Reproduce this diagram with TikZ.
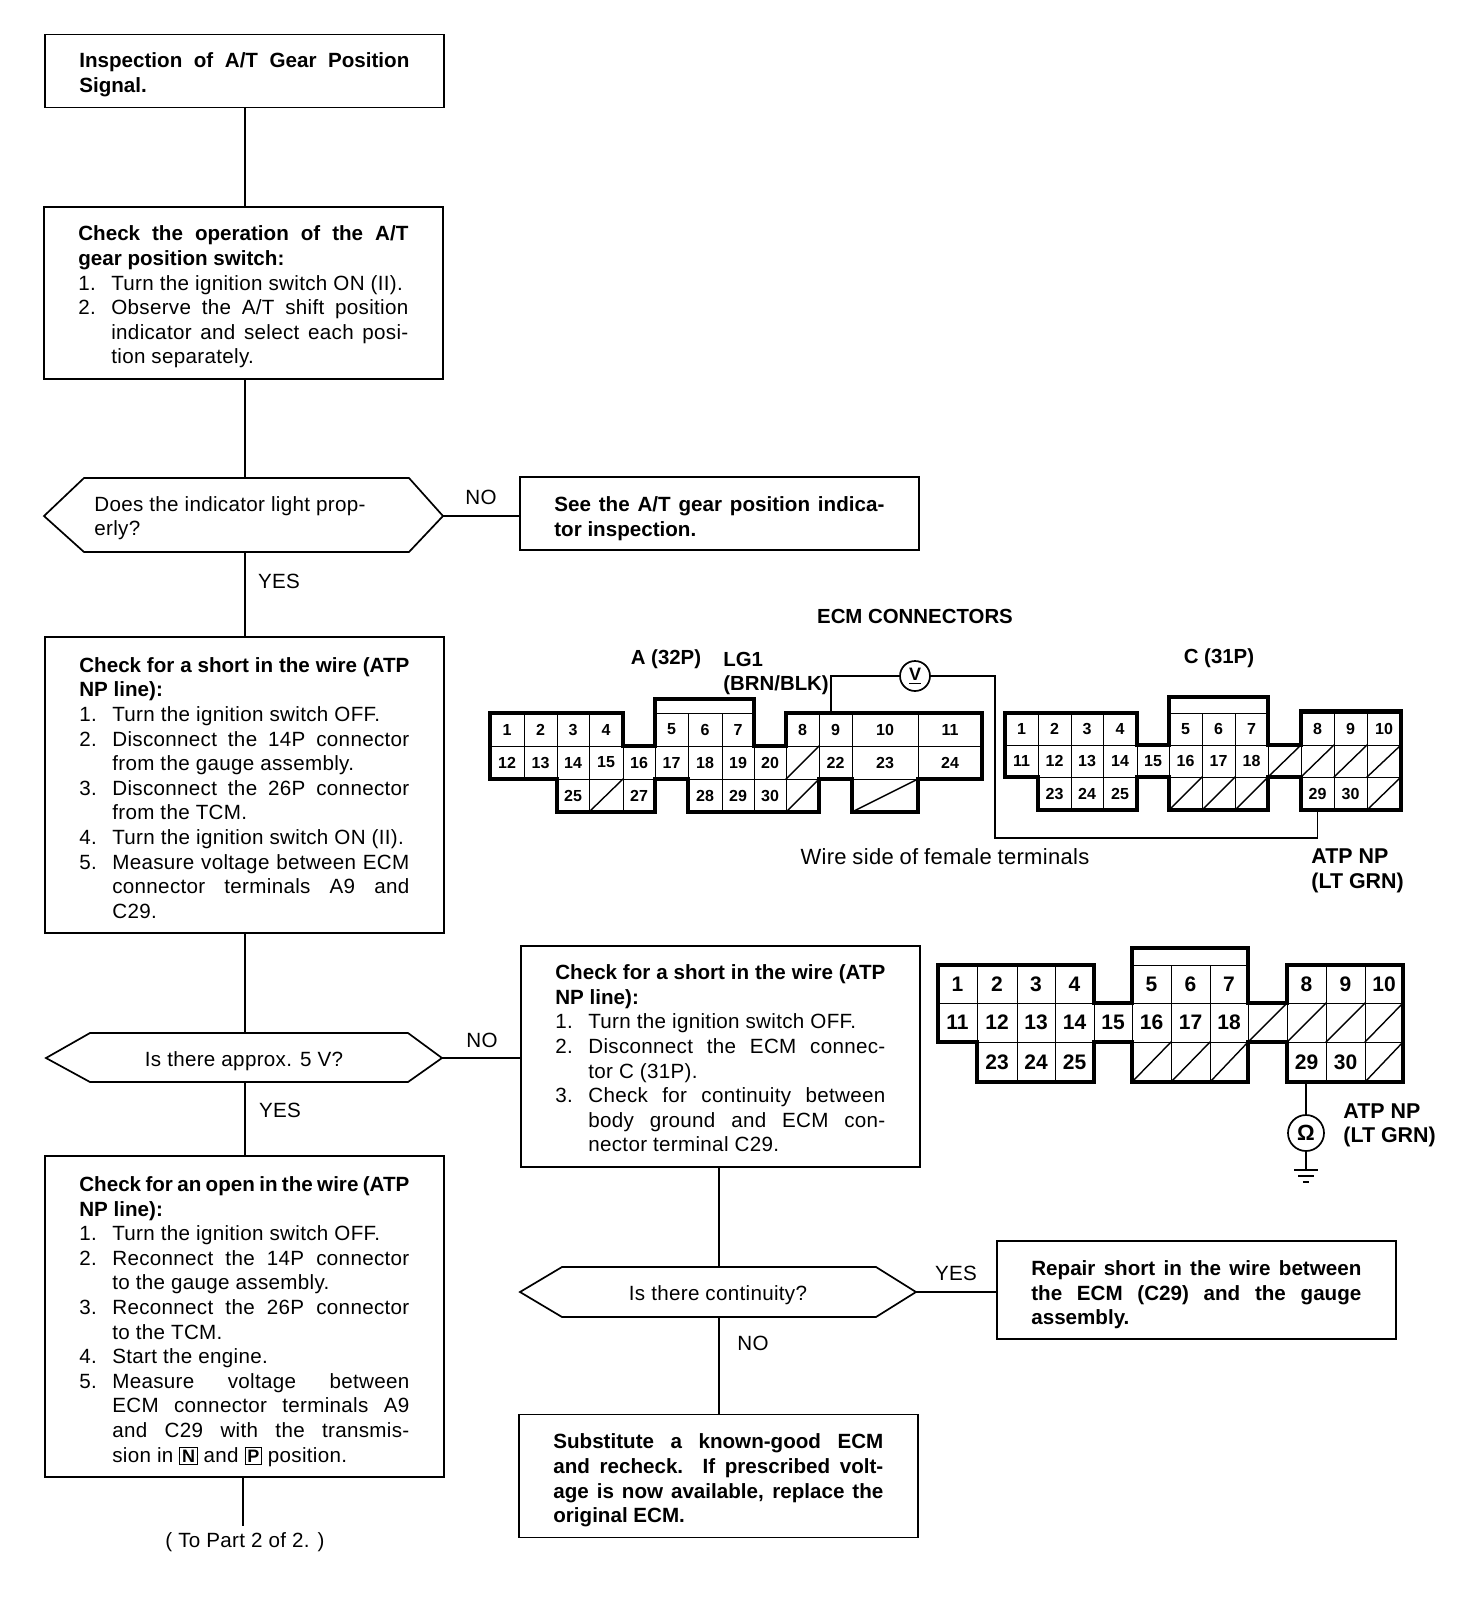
\documentclass[tikz,border=0pt]{standalone}
\usepackage{fontspec}
\setmainfont[LetterSpace=1.5,BoldFeatures={LetterSpace=0}]{Liberation Sans}
\newlength{\tw}\setlength{\tw}{165pt}
\newlength{\hang}\setlength{\hang}{16.5pt}
\newlength{\hangw}\setlength{\hangw}{148.5pt}
\newcommand{\lnJ}[1]{\makebox[\tw][s]{#1}}
\newcommand{\lnN}[2]{\makebox[\hang][l]{#1}#2}
\newcommand{\lnNJ}[2]{\makebox[\hang][l]{#1}\makebox[\hangw][s]{#2}}
\newcommand{\lnI}[1]{\hspace*{\hang}#1}
\newcommand{\lnIJ}[1]{\hspace*{\hang}\makebox[\hangw][s]{#1}}
\newcommand{\tp}[1]{\rule{0pt}{#1pt}}
\newcommand{\Pos}[1]{{\setlength{\fboxsep}{0.8pt}\setlength{\fboxrule}{0.5pt}\fbox{\fontsize{9}{9}\selectfont\bfseries #1}}}
\tikzset{
  x=0.5pt,y=-0.5pt,
  natural/.style={execute at begin node={\spaceskip=0pt\xspaceskip=0pt}},
  wire/.style={line width=0.85pt,line cap=rect},
  thinwire/.style={line width=0.75pt,line join=miter},
  box/.style={natural,draw,line width=0.85pt,inner xsep=17.25pt,inner ysep=0pt,text width=\tw,align=left,anchor=north west,font=\fontsize{10.3pt}{12.3pt}\selectfont},
  boldbox/.style={box,font=\fontsize{10.3pt}{12.3pt}\selectfont\bfseries},
  plain/.style={natural,inner sep=0pt,font=\fontsize{10.3pt}{12.3pt}\selectfont},
  tag/.style={natural,inner sep=0pt,align=left,font=\fontsize{10.2pt}{12.3pt}\selectfont\bfseries},
  bigtag/.style={tag,font=\fontsize{10.7pt}{12.3pt}\selectfont\bfseries},
  cellbase/.style={draw,line width=0.5pt,inner sep=0pt,font=\fontsize{8pt}{9pt}\selectfont\bfseries},
  cell/.style={cellbase},
  outline/.style={line width=1.8pt,line join=miter},
  hatch/.style={line width=0.7pt},
  meter/.style={draw,circle,line width=0.85pt,inner sep=0pt,fill=white}
}
\newcommand{\cellrow}[3]{\foreach \nm/\a/\b/\lb in {#3}{%
  \node[cell,minimum width={(\b-\a)*0.5pt},minimum height={(#2-#1)*0.5pt}] (\nm) at ({(\a+\b)/2},{(#1+#2)/2}) {\lb};}}
\newcommand{\hatchrow}[3]{\foreach \nm/\a/\b in {#3}{%
  \node[cell,minimum width={(\b-\a)*0.5pt},minimum height={(#2-#1)*0.5pt}] (\nm) at ({(\a+\b)/2},{(#1+#2)/2}) {};
  \draw[hatch] (\nm.south west) -- (\nm.north east);}}
\newcommand{\hexa}[8]{%
  \draw[wire,line join=miter] (#2,#7) -- (#3,#6) -- (#4,#6) -- (#5,#7) -- (#4,#8) -- (#3,#8) -- cycle;
  \coordinate (#1w) at (#2,#7); \coordinate (#1e) at (#5,#7);}
\begin{document}
\begin{tikzpicture}
\useasboundingbox (0,0) rectangle (1472,1614);
\fill[white] (0,0) rectangle (1472,1614);

% ---- flow boxes
\node[boldbox,minimum height=36.5pt] (b1) at (44,33.5) {\tp{11.6}\lnJ{Inspection of A/T Gear Position}\\Signal.};
\node[box,minimum height=86pt] (b2) at (43,206) {\tp{11.6}{\bfseries\lnJ{Check the operation of the A/T}\\gear position switch:}\\
\lnN{1.}{Turn the ignition switch ON (II).}\\
\lnNJ{2.}{Observe the A/T shift position}\\
\lnIJ{indicator and select each posi-}\\
\lnI{tion separately.}};
\hexa{d1}{44}{84}{409}{443}{478}{516}{552}
\node[plain,align=left,anchor=west] (d1t) at (94,518) {Does the indicator light prop-\\erly?};
\node[boldbox,minimum height=36.5pt] (b3) at (519,476) {\tp{12.6}\lnJ{See the A/T gear position indica-}\\tor inspection.};
\node[box,minimum height=148pt] (b4) at (44,636) {\tp{10.6}{\bfseries\lnJ{Check for a short in the wire (ATP}\\NP line):}\\
\lnN{1.}{Turn the ignition switch OFF.}\\
\lnNJ{2.}{Disconnect the 14P connector}\\
\lnI{from the gauge assembly.}\\
\lnNJ{3.}{Disconnect the 26P connector}\\
\lnI{from the TCM.}\\
\lnN{4.}{Turn the ignition switch ON (II).}\\
\lnNJ{5.}{Measure voltage between ECM}\\
\lnIJ{connector terminals A9 and}\\
\lnI{C29.}};
\hexa{d2}{46}{90}{408}{442}{1033}{1058}{1082}
\node[plain] (d2t) at (244,1061) {Is there approx. 5 V?};
\node[box,minimum height=110.5pt] (b5) at (520,945) {\tp{9.6}{\bfseries\lnJ{Check for a short in the wire (ATP}\\NP line):}\\
\lnN{1.}{Turn the ignition switch OFF.}\\
\lnNJ{2.}{Disconnect the ECM connec-}\\
\lnI{tor C (31P).}\\
\lnNJ{3.}{Check for continuity between}\\
\lnIJ{body ground and ECM con-}\\
\lnI{nector terminal C29.}};
\node[box,minimum height=160.5pt] (b6) at (44,1155) {\tp{12.6}{\bfseries\lnJ{Check for an open in the wire (ATP}\\NP line):}\\
\lnN{1.}{Turn the ignition switch OFF.}\\
\lnNJ{2.}{Reconnect the 14P connector}\\
\lnI{to the gauge assembly.}\\
\lnNJ{3.}{Reconnect the 26P connector}\\
\lnI{to the TCM.}\\
\lnN{4.}{Start the engine.}\\
\lnNJ{5.}{Measure voltage between}\\
\lnIJ{ECM connector terminals A9}\\
\lnIJ{and C29 with the transmis-}\\
\lnI{sion in \Pos{N} and \Pos{P} position.}};
\hexa{d3}{520}{562}{876}{916}{1267}{1292}{1317}
\node[plain] (d3t) at (718,1295) {Is there continuity?};
\node[boldbox,minimum height=49pt] (b7) at (996,1240) {\tp{12.6}\lnJ{Repair short in the wire between}\\\lnJ{the ECM (C29) and the gauge}\\assembly.};
\node[boldbox,minimum height=61.5pt] (b8) at (518,1413.5) {\tp{12.1}\lnJ{Substitute a known-good ECM}\\\lnJ{and recheck. If prescribed volt-}\\\lnJ{age is now available, replace the}\\original ECM.};

\coordinate (spine) at (245,0);
\coordinate (spine2) at (719,0);
\coordinate (d1n) at (245,478); \coordinate (d1s) at (245,552);
\coordinate (d2n) at (245,1033); \coordinate (d2s) at (245,1082);
\coordinate (d3n) at (719,1267); \coordinate (d3s) at (719,1317);
\coordinate (cut) at (243,1525);

\draw[wire] (spine |- b1.south) -- (spine |- b2.north);
\draw[wire] (spine |- b2.south) -- (d1n);
\draw[wire] (d1s) -- (d1s |- b4.north);
\draw[wire] (spine |- b4.south) -- (d2n);
\draw[wire] (d2s) -- (d2s |- b6.north);
\draw[wire] (cut |- b6.south) -- (cut);
\draw[wire] (d1e) -- (d1e -| b3.west);
\draw[wire] (d2e) -- (d2e -| b5.west);
\draw[wire] (spine2 |- b5.south) -- (d3n);
\draw[wire] (d3s) -- (d3s |- b8.north);
\draw[wire] (d3e) -- (d3e -| b7.west);

\node[plain] (no1) at (481,497) {NO};
\node[plain] (yes1) at (279,581) {YES};
\node[plain] (no2) at (482,1040) {NO};
\node[plain] (yes2) at (280,1110) {YES};
\node[plain] (yes3) at (956,1273) {YES};
\node[plain] (no3) at (753,1343) {NO};
\node[plain] (topart) at (245,1542) {( To Part 2 of 2. )};

% ---- labels
\node[tag] (t1) at (915,616) {ECM CONNECTORS};
\node[tag] (t2) at (666,659) {A (32P)};
\node[tag,anchor=west] (t3) at (723,659) {LG1};
\node[tag,anchor=west] (t4) at (723,685) {(BRN/BLK)};
\node[tag] (t5) at (1219,658) {C (31P)};
\node[plain,font=\fontsize{11pt}{12.3pt}\selectfont] (t6) at (945,857) {\makebox[144.5pt][s]{Wire side of female terminals}};
\node[bigtag,anchor=west] (t7) at (1311,856) {ATP NP};
\node[bigtag,anchor=west] (t8) at (1311,883) {(LT GRN)};
\node[bigtag,anchor=west] (t9) at (1343,1111) {ATP NP};
\node[bigtag,anchor=west] (t10) at (1343,1137) {(LT GRN)};

% ---- connector A
\cellrow{713}{746}{a1/490/524/1,a2/524/557/2,a3/557/589/3,a4/589/623/4,a5/655/688/5,a6/688/722/6,a7/722/754/7,a8/786/819/8,a9/819/852/9,a10/852/918/10,a11/918/982/11}
\cellrow{746}{779}{a12/490/524/12,a13/524/557/13,a14/557/589/14,a15/589/623/15,a16/623/655/16,a17/655/688/17,a18/688/722/18,a19/722/754/19,a20/754/786/20,a22/819/852/22,a23/852/918/23,a24/918/982/24}
\hatchrow{746}{779}{ax1/786/819}
\cellrow{779}{812}{a25/557/589/25,a27/623/655/27,a28/688/722/28,a29/722/754/29,a30/754/786/30}
\hatchrow{779}{812}{ax2/589/623,ax3/786/819}
\draw[hatch] (852,812) -- (918,779);
\draw[outline] (490,713) -- (623,713) -- (623,746) -- (655,746) -- (655,699) -- (754,699) -- (754,746) -- (786,746) -- (786,713) -- (982,713) -- (982,779) -- (918,779) -- (918,812) -- (852,812) -- (852,779) -- (819,779) -- (819,812) -- (688,812) -- (688,779) -- (655,779) -- (655,812) -- (557,812) -- (557,779) -- (490,779) -- cycle;

% ---- connector C
\cellrow{713}{745}{c1/1005/1038/1,c2/1038/1071/2,c3/1071/1103/3,c4/1103/1137/4,c5/1169/1202/5,c6/1202/1235/6,c7/1235/1268/7,c8/1301/1334/8,c9/1334/1367/9,c10/1367/1401/10}
\cellrow{745}{777}{c11/1005/1038/11,c12/1038/1071/12,c13/1071/1103/13,c14/1103/1137/14,c15/1137/1169/15,c16/1169/1202/16,c17/1202/1235/17,c18/1235/1268/18}
\hatchrow{745}{777}{cx1/1268/1301,cx2/1301/1334,cx3/1334/1367,cx4/1367/1401}
\cellrow{777}{810}{c23/1038/1071/23,c24/1071/1103/24,c25/1103/1137/25,c29/1301/1334/29,c30/1334/1367/30}
\hatchrow{777}{810}{cx5/1169/1202,cx6/1202/1235,cx7/1235/1268,cx8/1367/1401}
\draw[outline] (1005,713) -- (1137,713) -- (1137,745) -- (1169,745) -- (1169,697) -- (1268,697) -- (1268,745) -- (1301,745) -- (1301,711) -- (1401,711) -- (1401,810) -- (1301,810) -- (1301,777) -- (1268,777) -- (1268,810) -- (1169,810) -- (1169,777) -- (1137,777) -- (1137,810) -- (1038,810) -- (1038,777) -- (1005,777) -- cycle;

% ---- voltmeter wiring
\node[meter,minimum size=15pt,font=\fontsize{9pt}{10pt}\selectfont\bfseries] (vm) at (915,676) {\underline{V}};
\coordinate (wirecorner) at (995,676);
\coordinate (wirelow) at (995,838);
\coordinate (a9tap) at (831,713);
\draw[thinwire] (a9tap) |- (vm.west);
\draw[thinwire] (vm.east) -- (wirecorner) -- (wirelow) -| (c29.south);

% ---- third connector
\begin{scope}[cell/.style={cellbase,font=\fontsize{10.5pt}{12pt}\selectfont\bfseries}]
\cellrow{965}{1003}{e1/938/977/1,e2/977/1017/2,e3/1017/1055/3,e4/1055/1094/4,e5/1132/1171/5,e6/1171/1210/6,e7/1210/1248/7,e8/1287/1326/8,e9/1326/1365/9,e10/1365/1403/10}
\cellrow{1003}{1042}{e11/938/977/11,e12/977/1017/12,e13/1017/1055/13,e14/1055/1094/14,e15/1094/1132/15,e16/1132/1171/16,e17/1171/1210/17,e18/1210/1248/18}
\hatchrow{1003}{1042}{ex1/1248/1287,ex2/1287/1326,ex3/1326/1365,ex4/1365/1403}
\cellrow{1042}{1082}{e23/977/1017/23,e24/1017/1055/24,e25/1055/1094/25,e29/1287/1326/29,e30/1326/1365/30}
\hatchrow{1042}{1082}{ex5/1132/1171,ex6/1171/1210,ex7/1210/1248,ex8/1365/1403}
\end{scope}
\draw[outline] (938,965) -- (1094,965) -- (1094,1003) -- (1132,1003) -- (1132,948) -- (1248,948) -- (1248,1003) -- (1287,1003) -- (1287,965) -- (1403,965) -- (1403,1082) -- (1287,1082) -- (1287,1042) -- (1248,1042) -- (1248,1082) -- (1132,1082) -- (1132,1042) -- (1094,1042) -- (1094,1082) -- (977,1082) -- (977,1042) -- (938,1042) -- cycle;

% ---- ohmmeter and ground
\node[meter,minimum size=18pt,font=\fontsize{11pt}{12pt}\selectfont\bfseries] (om) at (1306,1133) {Ω};
\coordinate (gnd) at (1306,1170);
\draw[thinwire] (om |- e29.south) -- (om.north);
\draw[thinwire] (om.south) -- (gnd);
\draw[thinwire] (1294,1170) -- (1318,1170);
\draw[thinwire] (1298,1176) -- (1314,1176);
\draw[thinwire] (1303,1182) -- (1309,1182);
\end{tikzpicture}
\end{document}
